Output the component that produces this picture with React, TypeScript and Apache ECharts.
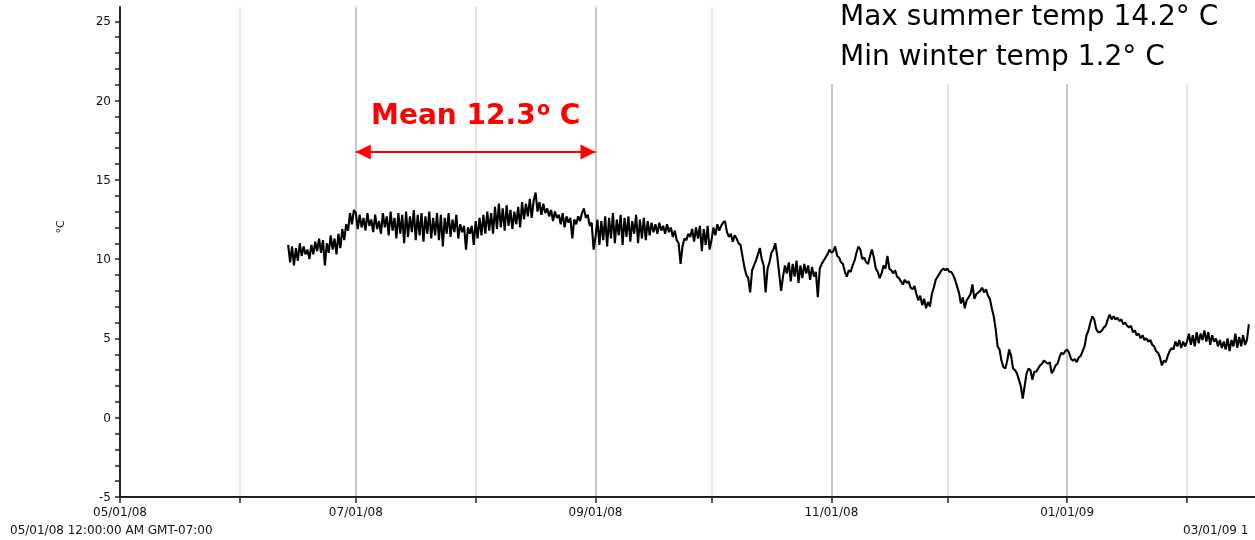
import { useEffect, useRef } from "react";
import * as echarts from "echarts";

// Temperature logger, readings every 12 hours (°C), grouped by month.
const HALF_DAY = 12 * 3600 * 1000;

const june2008Start = Date.UTC(2008, 5, 13, 12);
const june2008 = [
  10.9, 9.8, 10.8, 9.6, 10.7, 9.9, 11.0, 10.2, 10.8, 10.3,
  10.6, 10.0, 10.9, 10.3, 11.1, 10.5, 11.3, 10.4, 11.2, 9.6,
  11.0, 10.4, 11.5, 10.6, 11.3, 10.3, 11.6, 10.7, 11.9, 11.2,
  12.2, 11.8, 12.9, 12.2, 13.1,
];

const july2008Start = Date.UTC(2008, 6, 1);
const july2008 = [
  12.9, 11.9, 12.8, 12.0, 12.6, 11.8, 12.9, 12.1, 12.5, 11.7,
  12.8, 11.9, 12.4, 11.6, 12.9, 12.0, 12.7, 11.5, 13.0, 11.8,
  12.6, 11.3, 12.9, 11.6, 12.8, 11.0, 13.0, 11.4, 12.7, 11.7,
  13.1, 11.2, 12.8, 11.5, 12.9, 11.1, 12.7, 11.6, 13.0, 11.3,
  12.6, 11.5, 12.9, 11.2, 12.8, 10.8, 12.6, 11.6, 12.9, 11.4,
  12.5, 11.7, 12.8, 11.3, 12.2, 11.7, 12.1, 10.6, 12.0, 11.6,
  12.1, 10.9,
];

const august2008Start = Date.UTC(2008, 7, 1);
const august2008 = [
  12.4, 11.3, 12.6, 11.5, 12.8, 11.6, 13.0, 11.8, 12.9, 11.6,
  13.3, 11.9, 13.5, 12.0, 13.2, 11.8, 13.4, 12.1, 13.1, 11.9,
  13.0, 12.2, 13.3, 12.0, 13.6, 12.5, 13.5, 12.7, 13.8, 12.6,
  13.7, 14.2, 13.0, 13.6, 12.8, 13.5, 12.9, 13.2, 12.7, 13.1,
  12.4, 13.0, 12.6, 12.8, 12.2, 12.9, 12.0, 12.7, 12.3, 12.6,
  11.3, 12.5, 12.2, 12.7, 12.4, 12.9, 13.2, 12.6, 12.8, 12.1,
  12.3, 10.6,
];

const september2008Start = Date.UTC(2008, 8, 1);
const september2008 = [
  11.4, 12.5, 10.9, 12.4, 11.2, 12.7, 10.8, 12.6, 11.3, 12.9,
  11.0, 12.5, 11.5, 12.8, 10.9, 12.6, 11.4, 12.7, 11.1, 12.4,
  11.6, 12.8, 11.0, 12.5, 11.3, 12.6, 11.2, 12.4, 11.5, 12.3,
  11.7, 12.2, 11.6, 12.3, 11.8, 12.1, 11.6, 12.2, 11.7, 12.0,
  11.4, 11.8, 11.2, 11.0, 9.7, 10.8, 11.3, 11.2, 11.6, 11.4,
  11.9, 11.1, 12.0, 11.3, 12.1, 10.5, 11.9, 10.9, 12.1, 10.6,
];

const october2008Start = Date.UTC(2008, 9, 1);
const october2008 = [
  11.2, 12.0, 11.5, 12.2, 11.8, 12.1, 12.3, 12.4, 11.7, 11.4,
  11.6, 11.1, 11.5, 11.3, 11.0, 10.9, 10.2, 9.5, 9.0, 8.8,
  7.9, 9.3, 9.6, 9.9, 10.3, 10.7, 10.0, 9.6, 7.9, 9.4,
  9.8, 10.4, 10.6, 11.0, 10.2, 9.1, 8.0, 8.9, 9.6, 9.1,
  9.8, 8.6, 9.7, 8.9, 9.9, 8.5, 9.6, 8.8, 9.7, 9.1,
  9.6, 8.7, 9.5, 8.9, 9.2, 7.6, 9.4, 9.7, 9.9, 10.1,
  10.3, 10.6,
];

const november2008Start = Date.UTC(2008, 10, 1);
const november2008 = [
  10.4, 10.5, 10.8, 10.2, 10.1, 9.8, 9.7, 9.2, 8.9, 9.3,
  9.2, 9.6, 9.9, 10.4, 10.8, 10.6, 10.0, 10.1, 9.8, 9.7,
  10.2, 10.6, 10.1, 9.4, 9.2, 8.8, 9.1, 9.6, 9.4, 10.2,
  9.4, 9.3, 9.1, 9.3, 8.9, 8.8, 8.6, 8.4, 8.7, 8.5,
  8.6, 8.2, 8.1, 8.3, 7.8, 7.4, 7.7, 7.1, 7.5, 6.9,
  7.3, 7.0, 7.8, 8.2, 8.7, 8.9, 9.1, 9.3, 9.4, 9.3,
];

const december2008Start = Date.UTC(2008, 11, 1);
const december2008 = [
  9.4, 9.2, 9.2, 9.0, 8.7, 8.3, 7.9, 7.2, 7.6, 6.9,
  7.4, 7.6, 7.8, 8.4, 7.5, 7.8, 7.9, 8.0, 8.2, 7.9,
  8.1, 7.7, 7.5, 6.9, 6.4, 5.6, 4.5, 4.3, 3.6, 3.2,
  3.1, 3.6, 4.3, 3.9, 3.1, 3.0, 2.8, 2.4, 2.0, 1.2,
  2.0, 2.8, 3.1, 3.0, 2.4, 2.9, 2.9, 3.1, 3.3, 3.4,
  3.6, 3.5, 3.4, 3.5, 2.8, 3.0, 3.3, 3.4, 3.8, 4.1,
  4.0, 4.2,
];

const january2009Start = Date.UTC(2009, 0, 1);
const january2009 = [
  4.3, 4.1, 3.7, 3.6, 3.7, 3.5, 3.8, 3.9, 4.2, 4.5,
  5.2, 5.5, 6.0, 6.4, 6.2, 5.6, 5.4, 5.4, 5.5, 5.7,
  5.8, 6.2, 6.5, 6.2, 6.4, 6.2, 6.3, 6.1, 6.2, 5.9,
  6.0, 5.8, 5.7, 5.8, 5.4, 5.5, 5.2, 5.3, 5.0, 5.2,
  4.9, 5.0, 4.8, 4.9, 4.6, 4.5, 4.2, 4.1, 3.8, 3.3,
  3.6, 3.5, 3.9, 4.2, 4.4, 4.3, 4.8, 4.5, 4.9, 4.4,
  4.8, 4.5,
];

const february2009Start = Date.UTC(2009, 1, 1);
const february2009 = [
  4.8, 5.3, 4.6, 5.2, 4.5, 5.4, 4.7, 5.3, 4.9, 5.5,
  4.8, 5.4, 4.6, 5.2, 4.8, 5.0, 4.5, 4.9, 4.4, 4.8,
  4.3, 5.0, 4.2, 4.9, 4.5, 5.3, 4.4, 5.1, 4.5, 5.2,
  4.6, 4.9, 5.9,
];

const segments = [
  { start: june2008Start, values: june2008 },
  { start: july2008Start, values: july2008 },
  { start: august2008Start, values: august2008 },
  { start: september2008Start, values: september2008 },
  { start: october2008Start, values: october2008 },
  { start: november2008Start, values: november2008 },
  { start: december2008Start, values: december2008 },
  { start: january2009Start, values: january2009 },
  { start: february2009Start, values: february2009 },
];

// Axis extent and ticks
const X_MIN = Date.UTC(2008, 4, 1);
const X_MAX = Date.UTC(2009, 1, 18, 14);
const monthTicks = [
  Date.UTC(2008, 4, 1), Date.UTC(2008, 5, 1), Date.UTC(2008, 6, 1),
  Date.UTC(2008, 7, 1), Date.UTC(2008, 8, 1), Date.UTC(2008, 9, 1),
  Date.UTC(2008, 10, 1), Date.UTC(2008, 11, 1), Date.UTC(2009, 0, 1),
  Date.UTC(2009, 1, 1),
];
const labeledMonths = [
  Date.UTC(2008, 4, 1), Date.UTC(2008, 6, 1), Date.UTC(2008, 8, 1),
  Date.UTC(2008, 10, 1), Date.UTC(2009, 0, 1),
];
const Y_MIN = -5;
const Y_MAX = 25.9;
const yLabelValues = [-5, 0, 5, 10, 15, 20, 25];
const yTickValues = [
  -5, -4, -3, -2, -1, 0, 1, 2, 3, 4, 5, 6, 7, 8, 9, 10, 11, 12, 13, 14, 15,
  16, 17, 18, 19, 20, 21, 22, 23, 24, 25,
];

// Summer mean annotation
const meanSpan = [Date.UTC(2008, 6, 1), Date.UTC(2008, 8, 1)];
const meanArrowLevel = 16.75;
const meanValue = "12.3";

const startStamp = "05/01/08 12:00:00 AM GMT-07:00";
const endStamp = "03/01/09 1";

function fmtDate(v: number): string {
  const d = new Date(v);
  const mm = String(d.getUTCMonth() + 1).padStart(2, "0");
  const dd = String(d.getUTCDate()).padStart(2, "0");
  const yy = String(d.getUTCFullYear() % 100).padStart(2, "0");
  return `${mm}/${dd}/${yy}`;
}

export default function App() {
  const ref = useRef<HTMLDivElement>(null);

  useEffect(() => {
    if (!ref.current) return;
    const chart = echarts.init(ref.current, null, { renderer: "svg" });

    const points: [number, number][] = [];
    segments.forEach((seg) => {
      seg.values.forEach((v, i) => points.push([seg.start + i * HALF_DAY, v]));
    });
    const allValues = points.map((p) => p[1]);
    const maxTemp = Math.max(...allValues);
    const minTemp = Math.min(...allValues);

    const font = '"DejaVu Sans", Verdana, sans-serif';
    const noteFont = '28px "Comic Sans MS", "DejaVu Sans", sans-serif';

    chart.setOption({
      animation: false,
      useUTC: true,
      textStyle: { fontFamily: font },
      grid: { left: 120, right: 0, top: 7, bottom: 43, containLabel: false },
      xAxis: {
        type: "value",
        min: X_MIN,
        max: X_MAX,
        axisLine: {
          show: true,
          onZero: false,
          lineStyle: { color: "#222", width: 2 },
        },
        axisTick: {
          show: true,
          customValues: monthTicks,
          length: 6,
          lineStyle: { color: "#222", width: 1.5 },
        },
        axisLabel: {
          customValues: labeledMonths,
          formatter: (v: number) => fmtDate(v),
          color: "#111",
          fontSize: 12,
          fontFamily: font,
          margin: 9,
        },
        splitLine: {
          show: true,
          lineStyle: { color: ["#b4b4b4", "#dedede"], width: 1.5 },
        },
      },
      yAxis: {
        type: "value",
        min: Y_MIN,
        max: Y_MAX,
        axisLine: { show: true, onZero: false, lineStyle: { color: "#222", width: 2 } },
        axisTick: {
          show: true,
          customValues: yTickValues,
          length: 5,
          lineStyle: { color: "#222", width: 1.5 },
        },
        axisLabel: {
          customValues: yLabelValues,
          color: "#111",
          fontSize: 12,
          fontFamily: font,
          margin: 9,
        },
        splitLine: { show: false },
      },
      series: [
        {
          type: "line",
          data: points,
          showSymbol: false,
          symbol: "none",
          lineStyle: { color: "#000", width: 2.1 },
          z: 3,
          markLine: {
            silent: true,
            animation: false,
            symbol: ["triangle", "triangle"],
            symbolSize: [15, 15],
            symbolOffset: [
              [0, 7.5],
              [0, 7.5],
            ],
            lineStyle: { color: "#ff0000", width: 2, type: "solid" },
            label: {
              show: true,
              position: "middle",
              distance: 22,
              formatter: `{m|Mean ${meanValue}}{g| }{s|o}{m| C}`,
              rich: {
                m: {
                  fontFamily: font,
                  fontWeight: "bold",
                  fontSize: 28,
                  lineHeight: 32,
                  color: "#ff0000",
                },
                g: {
                  fontSize: 4,
                  lineHeight: 4,
                },
                s: {
                  fontFamily: font,
                  fontWeight: "bold",
                  fontSize: 19,
                  lineHeight: 19,
                  verticalAlign: "top",
                  color: "#ff0000",
                },
              },
            },
            data: [
              [
                { coord: [meanSpan[0], meanArrowLevel] },
                { coord: [meanSpan[1], meanArrowLevel] },
              ],
            ],
          },
        },
      ],
      graphic: [
        {
          type: "rect",
          shape: { x: 815, y: 0, width: 440, height: 84 },
          style: { fill: "#fff" },
          z: 10,
        },
        {
          type: "text",
          x: 840,
          y: 15,
          z: 11,
          style: {
            text: `Max summer temp ${maxTemp.toFixed(1)}° C`,
            font: noteFont,
            fill: "#000",
            verticalAlign: "middle",
          },
        },
        {
          type: "text",
          x: 840,
          y: 55,
          z: 11,
          style: {
            text: `Min winter temp ${minTemp.toFixed(1)}° C`,
            font: noteFont,
            fill: "#000",
            verticalAlign: "middle",
          },
        },
        {
          type: "text",
          x: 60,
          y: 227,
          rotation: Math.PI / 2,
          style: {
            text: "°C",
            font: `11px ${font}`,
            fill: "#111",
            align: "center",
            verticalAlign: "middle",
          },
        },
        {
          type: "text",
          x: 10,
          y: 530,
          style: {
            text: startStamp,
            font: `12px ${font}`,
            fill: "#111",
            verticalAlign: "middle",
          },
        },
        {
          type: "text",
          x: 1183,
          y: 530,
          style: {
            text: endStamp,
            font: `12px ${font}`,
            fill: "#111",
            verticalAlign: "middle",
          },
        },
      ],
    });

    return () => chart.dispose();
  }, []);

  return (
    <div
      ref={ref}
      style={{ position: "fixed", left: 0, top: 0, width: 1255, height: 540 }}
    />
  );
}
